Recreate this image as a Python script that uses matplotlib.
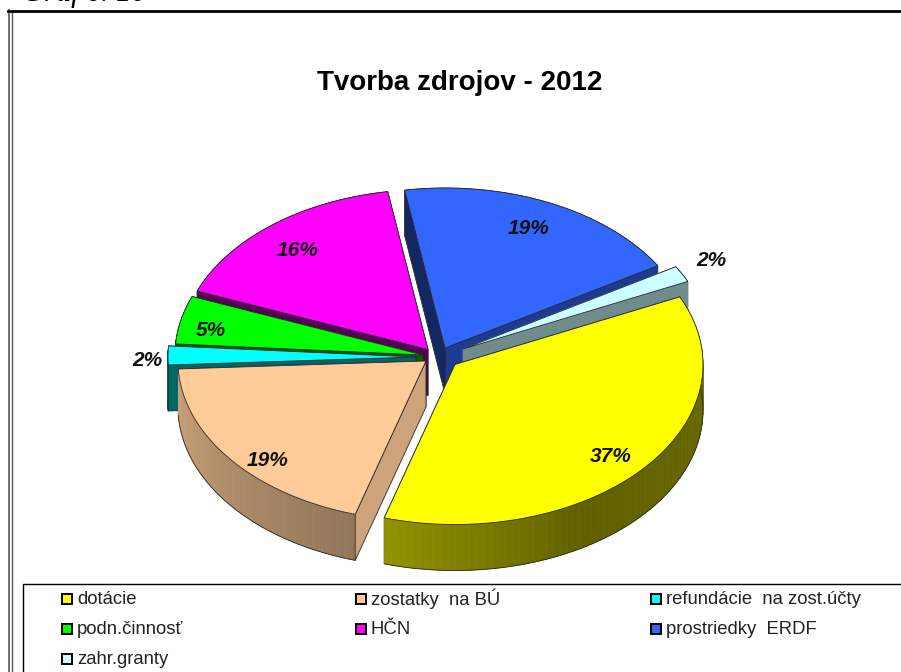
import numpy as np
import matplotlib
matplotlib.use('Agg')
import matplotlib.pyplot as plt
from matplotlib.patches import Polygon, Rectangle

plt.rcParams['font.family'] = ['Liberation Sans', 'DejaVu Sans']

# Data
names = ['dotácie', 'zostatky  na BÚ', 'refundácie  na zost.účty', 'podn.činnosť', 'HČN', 'prostriedky  ERDF', 'zahr.granty']
values = [36.55, 19.6, 1.9, 4.85, 16.45, 19.0, 1.65]
percent_labels = ['37%', '19%', '2%', '5%', '16%', '19%', '2%']
title = 'Tvorba zdrojov - 2012'

# Style
colors = ['#FFFF00', '#FFCC99', '#00FFFF', '#00FF00', '#FF00FF', '#3366FF', '#CCFFFF']
explode_x = [17, -12, -22, -15, -10, 7, 25]
explode_y = [6.5, 3, -1, -3, -8.5, -10, -9]
shade_start = [0.5, 0.8, 0.4, 0.4, 0.33, 0.38, 0.55]
shade_end = [0.5, 0.8, 0.4, 0.4, 0.33, 0.58, 0.55]
gradient = [True, True, False, False, False, False, False]
label_xy = [(611, 456), (268, 461), (147, 360), (211, 330), (298, 250), (529, 228), (711, 261)]
draw_order = [5, 6, 4, 3, 2, 1, 0]

cx, cy = 438, 358
rx, ry = 248, 160
depth = 46
start_angle = 25
edge = '#2a2a2a'


def darker(color, f):
    rgb = np.array(matplotlib.colors.to_rgb(color))
    return tuple(rgb * f)


def add_wall(px, py, x, y, color, f, outline=True):
    wall = [(px, py), (x, y), (x, y + depth), (px, py + depth)]
    c = darker(color, f)
    ax.add_patch(Polygon(wall, closed=True, fc=c, ec=edge if outline else c, lw=0.6, zorder=1))


fig = plt.figure(figsize=(9.01, 6.72), dpi=100)
ax = fig.add_axes([0, 0, 1, 1])
ax.set_xlim(0, 901)
ax.set_ylim(672, 0)
ax.axis('off')

# slice angles, clockwise from the start angle
spans = 360 * np.array(values) / np.sum(values)
t0s = start_angle - np.concatenate([[0], np.cumsum(spans)[:-1]])
t1s = t0s - spans

for i in draw_order:
    ax_x = cx + explode_x[i]
    ax_y = cy + explode_y[i]
    t = np.linspace(t0s[i], t1s[i], 80)
    xs = ax_x + rx * np.cos(np.radians(t))
    ys = ax_y - ry * np.sin(np.radians(t))

    # far wall
    add_wall(ax_x, ax_y, xs[-1], ys[-1], colors[i], shade_end[i])

    # rim, split in strips for the gradient
    for j in range(len(t) - 1):
        if gradient[i]:
            f = np.interp((t[j] + t[j + 1]) / 2, [-180, -108, -60, 25], [0.8, 0.58, 0.38, 0.42])
        else:
            f = shade_end[i]
        strip = [(xs[j], ys[j]), (xs[j + 1], ys[j + 1]), (xs[j + 1], ys[j + 1] + depth), (xs[j], ys[j] + depth)]
        c = darker(colors[i], f)
        ax.add_patch(Polygon(strip, closed=True, fc=c, ec=c, lw=0.5, zorder=1))
    ax.plot(xs, ys + depth, color=edge, lw=0.6, zorder=1)

    # near wall, the last slice keeps one flat band with no seam
    add_wall(ax_x, ax_y, xs[0], ys[0], colors[i], shade_start[i], outline=i != 6)

    # top face
    top = np.column_stack([np.r_[ax_x, xs], np.r_[ax_y, ys]])
    ax.add_patch(Polygon(top, closed=True, fc=colors[i], ec=edge, lw=0.6, zorder=1))

# percent labels
for lab, (x, y) in zip(percent_labels, label_xy):
    ax.text(x, y, lab, fontsize=15, fontweight='bold', fontstyle='italic',
            ha='center', va='center', color='#111111', zorder=3)

ax.text(459.5, 83, title, fontsize=20, fontweight='bold', ha='center', va='center', color='black')

# cut-off caption above the frame
ax.text(22, 0.5, 'Graf č. 10', fontsize=22, fontstyle='italic', family='Liberation Serif', ha='left', va='baseline')

# double frame
ax.plot([8.5, 8.5], [10, 672], color='#555555', lw=1.2)
ax.plot([11.5, 11.5], [12, 672], color='#555555', lw=1.0)
ax.plot([8, 901], [11, 11], color='black', lw=2)

# legend box
ax.add_patch(Rectangle((23, 584), 890, 100, fc='white', ec='black', lw=1.0, zorder=2))
col_x = [62, 356, 651]
row_y = [599, 629, 659]
for i, name in enumerate(names):
    x = col_x[i % 3]
    y = row_y[i // 3]
    ax.add_patch(Rectangle((x, y - 5), 10, 10, fc=colors[i], ec='black', lw=1.4, zorder=3))
    ax.text(x + 15, y, name, fontsize=13.3, ha='left', va='center', color='#222222', zorder=3)

fig.savefig('out.png', dpi=100)
